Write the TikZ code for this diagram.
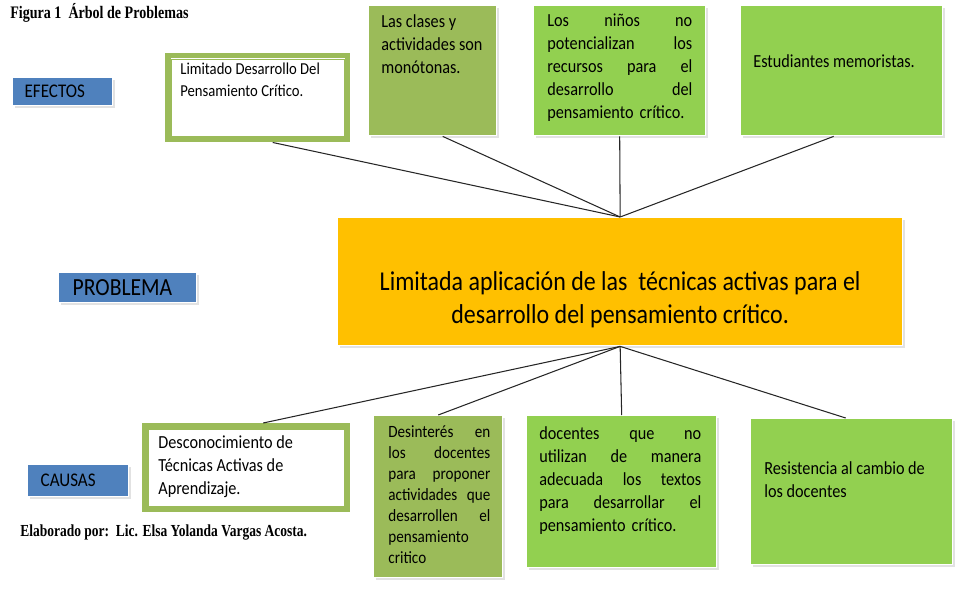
\documentclass[tikz,border=0pt]{standalone}
\usepackage{fontspec}
\setmainfont{Carlito}[FakeStretch=0.88]
\newfontfamily\capfont{Liberation Serif}[FakeStretch=0.8]
\usetikzlibrary{positioning,shadows}

\definecolor{tagblue}{HTML}{4F81BD}
\definecolor{olivegreen}{HTML}{9BBB59}
\definecolor{limegreen}{HTML}{92D050}
\definecolor{amber}{HTML}{FFC000}

\tikzset{
  box/.style={anchor=north west, inner sep=0pt, draw=white, line width=0.8pt,
    drop shadow={shadow xshift=1.2pt, shadow yshift=-1.2pt, fill=gray!45}},
  tagbox/.style={box, fill=tagblue, align=left},
  leafbox/.style={box, fill=limegreen},
  olivebox/.style={box, fill=olivegreen},
  framebox/.style={anchor=north west, inner sep=0pt, draw=olivegreen, line width=0.11cm, fill=white},
  txt/.style={anchor=north west, inner sep=0pt, align=left, font=\fontsize{10.5}{13.2}\selectfont},
  tie/.style={draw=black!85, line width=0.6pt},
}

\begin{document}
\begin{tikzpicture}[x=0.02cm,y=-0.02cm]
  \useasboundingbox (0,0) rectangle (962,594);

  % Titles
  \node[anchor=west, inner sep=0pt, font=\capfont\bfseries\fontsize{10}{11}\selectfont] (title) at (10,13) {Figura 1\ \ Árbol de Problemas};
  \node[anchor=west, inner sep=0pt, font=\capfont\bfseries\fontsize{9.6}{11}\selectfont] (author) at (20,533) {Elaborado por:\ \ Lic. Elsa Yolanda Vargas Acosta.};

  % Row labels
  \node[tagbox, minimum width=2cm, minimum height=0.56cm, inner xsep=0.24cm, text width=1.52cm, font=\fontsize{11}{12}\selectfont] (efectos) at (12,77) {EFECTOS};
  \node[tagbox, minimum width=2.76cm, minimum height=0.6cm, inner xsep=0.28cm, text width=2.2cm, font=\fontsize{14}{15}\selectfont] (problema) at (58,272) {PROBLEMA};
  \node[tagbox, minimum width=2.02cm, minimum height=0.64cm, inner xsep=0.26cm, text width=1.5cm, font=\fontsize{11}{12}\selectfont] (causas) at (27,464) {CAUSAS};

  % Effects
  \node[framebox, minimum width=3.6cm, minimum height=1.68cm] (limitado) at (165,53) {};
  \draw[olivegreen, line width=0.5pt] ([shift={(6.5,6.5)}]limitado.north west) rectangle ([shift={(-6.5,-6.5)}]limitado.south east);
  \node[txt, font=\fontsize{9.5}{12.5}\selectfont] (limitado-t) at ([shift={(15,10)}]limitado.north west)
    {Limitado Desarrollo Del\\Pensamiento Crítico.};

  \node[olivebox, minimum width=2.56cm, minimum height=2.6cm] (clases) at (368,5) {};
  \node[txt] (clases-t) at ([shift={(13,9)}]clases.north west)
    {Las clases y\\actividades son\\monótonas.};

  \node[leafbox, minimum width=3.44cm, minimum height=2.6cm] (ninos) at (533,5) {};
  \node[txt, text width=2.9cm] (ninos-t) at ([shift={(14,8)}]ninos.north west)
    {Los\hfill niños\hfill no\\potencializan\hfill los\\recursos\hfill para\hfill el\\desarrollo\hfill del\\pensamiento crítico.};

  \node[leafbox, minimum width=4.04cm, minimum height=2.6cm] (memoristas) at (740,5) {};
  \node[txt] (memoristas-t) at ([shift={(13,49)}]memoristas.north west)
    {Estudiantes memoristas.};

  % Problem
  \node[box, fill=amber, minimum width=11.3cm, minimum height=2.56cm] (central) at (337,217) {};
  \node[inner sep=0pt, align=center, font=\fontsize{15.5}{19}\selectfont] (central-t) at ([shift={(0,18)}]central.center)
    {Limitada aplicación de las\ \ técnicas activas para el\\desarrollo del pensamiento crítico.};

  % Causes
  \node[framebox, minimum width=4.06cm, minimum height=1.68cm] (desconoc) at (142,423) {};
  \draw[olivegreen, line width=0.5pt] ([shift={(6.5,6.5)}]desconoc.north west) rectangle ([shift={(-6.5,-6.5)}]desconoc.south east);
  \node[txt] (desconoc-t) at ([shift={(16,12)}]desconoc.north west)
    {Desconocimiento de\\Técnicas Activas de\\Aprendizaje.};

  \node[olivebox, minimum width=2.58cm, minimum height=3.24cm] (desinteres) at (373,415) {};
  \node[txt, text width=2.04cm, font=\fontsize{9.8}{12}\selectfont] (desinteres-t) at ([shift={(15,10)}]desinteres.north west)
    {Desinterés\hfill en\\los\hfill docentes\\para\hfill proponer\\actividades\hfill que\\desarrollen\hfill el\\pensamiento\\critico};

  \node[leafbox, minimum width=3.8cm, minimum height=3.04cm] (textos) at (526,415) {};
  \node[txt, text width=3.24cm] (textos-t) at ([shift={(13,11)}]textos.north west)
    {docentes\hfill que\hfill no\\utilizan\hfill de\hfill manera\\adecuada\hfill los\hfill textos\\para\hfill desarrollar\hfill el\\pensamiento crítico.};

  \node[leafbox, minimum width=4.04cm, minimum height=2.92cm] (resistencia) at (750,418) {};
  \node[txt] (resistencia-t) at ([shift={(14,43)}]resistencia.north west)
    {Resistencia al cambio de\\los docentes};

  % Tree connectors
  \draw[tie] ([xshift=0.3cm]limitado.south) -- (central.north);
  \draw[tie] ([xshift=0.2cm]clases.south) -- (central.north);
  \draw[tie] (ninos.south) -- (central.north);
  \draw[tie] ([xshift=-0.16cm]memoristas.south) -- (central.north);
  \draw[tie] (central.south) -- ([xshift=0.34cm]desconoc.north);
  \draw[tie] (central.south) -- (desinteres.north);
  \draw[tie] (central.south) -- (textos.north);
  \draw[tie] (central.south) -- ([xshift=-0.12cm]resistencia.north);
\end{tikzpicture}
\end{document}
